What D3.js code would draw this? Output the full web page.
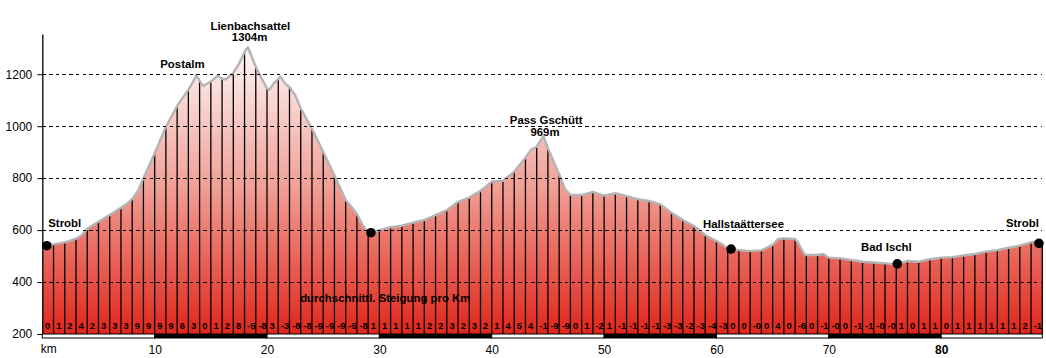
<!DOCTYPE html>
<html><head><meta charset="utf-8">
<script src="https://cdn.jsdelivr.net/npm/d3@7"></script>
<style>
html,body{margin:0;padding:0;background:#fff;}
svg{display:block;font-family:Arial,"Liberation Sans",sans-serif;}
</style></head>
<body>
<svg id="c" width="1046" height="358"></svg>
<script>
// ---- data ----
const profileKm = [0,0.5,1,2,3,3.5,4,5,6,7,7.5,8,8.5,9,10,11,12,12.5,13,13.4,13.7,14.3,15,15.6,16,16.3,17,17.5,18,18.3,19,19.5,20,20.2,20.6,21.2,21.6,22,22.5,23,24,25,26,27,27.5,28,28.5,29,29.3,30,31,32,33,34,35,36,37,38,39,40,41,42,43,43.5,44,44.6,45,46,46.5,47,48,49,50,51,52,53,54,55,56,57,58,59,60,60.5,61,62,63,64,65,65.5,66,67,67.3,67.8,68,69,69.5,70,71,72,73,74,75,76,77,78,79,80,81,82,83,84,85,86,87,88,88.7,89];
const profileElev = [537,540,545,553,567,580,605,632,658,686,700,720,750,800,896,998,1078,1110,1140,1170,1195,1155,1172,1195,1183,1180,1205,1240,1285,1304,1229,1185,1146,1140,1165,1191,1165,1150,1120,1069,990,902,810,716,690,662,620,590,588,600,611,617,629,639,658,677,709,725,751,786,790,825,879,910,921,962,915,815,760,735,735,747,733,742,731,719,712,699,667,639,616,581,558,545,528,523,519,522,543,566,568,566,549,508,504,504,508,494,491,485,478,475,472,468,481,478,488,494,496,502,508,517,523,532,540,553,556,552];
const gradLabels = ["0","1","2","4","2","3","3","3","9","9",
  "9","9","6","3","0","1","2","8","-5","-8",
  "3","-3","-8","-8","-9","-9","-9","-5","-8","1",
  "1","1","1","1","2","2","3","2","3","2",
  "1","4","5","4","-1","-9","-9","0","1","-2",
  "1","-1","-1","-1","-1","-3","-3","-2","-3","-4",
  "-3","0","0","-0","0","4","0","-6","0","-1",
  "-0","0","-1","-1","-0","-0","1","0","1","1",
  "0","1","1","1","1","1","1","2","-1"];
const yTicks = [200,400,600,800,1000,1200];
const xTicks = [10,20,30,40,50,60,70,80];
const waypointKm = [0.4,29.25,61.3,76.1,88.7];
const waypointElev = [540,590,527,470,549];
const labelText = ["Lienbachsattel","1304m","Postalm","Pass Gschütt","969m","Strobl","Hallstaättersee","Bad Ischl","Strobl","durchschnittl. Steigung pro Km"];
const labelKm   = [18.52,18.45,12.47,44.85,44.74,0.53,58.8,72.87,88.69,22.95];
const labelElev = [1372,1328,1226,1007,962,613,607,520,613,323];
const labelAnchor = ["middle","middle","middle","middle","middle","start","start","start","end","start"];

// ---- scales ----
const svg = d3.select("#c");
const x = d3.scaleLinear().domain([0,89]).range([42.3,1042.3]);
const y = d3.scaleLinear().domain([200,1355]).range([334,34]);
const pts = profileKm.map((k,i)=>[k,profileElev[i]]);
const elevAt = k => {
  const i = d3.bisector(d=>d[0]).left(pts,k);
  if(i<=0) return pts[0][1];
  if(i>=pts.length) return pts[pts.length-1][1];
  const a=pts[i-1], b=pts[i];
  return a[1]+(b[1]-a[1])*(k-a[0])/(b[0]-a[0]);
};

// gradient
const defs = svg.append("defs");
const g = defs.append("linearGradient").attr("id","fillg")
  .attr("gradientUnits","userSpaceOnUse").attr("x1",0).attr("x2",0)
  .attr("y1",y(1320)).attr("y2",y(200));
g.append("stop").attr("offset","0").attr("stop-color","#fffafa");
g.append("stop").attr("offset","0.5").attr("stop-color","#f09e94");
g.append("stop").attr("offset","1").attr("stop-color","#e0261a");

// area
svg.append("path").datum(pts)
  .attr("d", d3.area().x(d=>x(d[0])).y0(y(200)).y1(d=>y(d[1])))
  .attr("fill","url(#fillg)");

// vertical km lines
const kms = d3.range(1,90);
svg.append("g").selectAll("line").data(kms).join("line")
  .attr("x1",d=>x(d)).attr("x2",d=>x(d))
  .attr("y1",d=>y(elevAt(d))).attr("y2",y(200))
  .attr("stroke","#000").attr("stroke-width",1.3);

// profile outline
svg.append("path").datum(pts)
  .attr("d", d3.line().x(d=>x(d[0])).y(d=>y(d[1])))
  .attr("fill","none").attr("stroke","#b4b4b4").attr("stroke-width",2.4)
  .attr("stroke-linejoin","round");

// grid lines
svg.append("g").selectAll("line").data(yTicks.filter(v=>v>200)).join("line")
  .attr("x1",x(0)).attr("x2",x(89)).attr("y1",d=>y(d)).attr("y2",d=>y(d))
  .attr("stroke","#000").attr("stroke-width",1).attr("stroke-dasharray","3.5,3.2")
  .attr("shape-rendering","crispEdges");

// y axis
const ya = svg.append("g").attr("transform",`translate(${x(0)},0)`)
  .call(d3.axisLeft(y).tickValues(yTicks).tickSize(5).tickSizeOuter(0).tickPadding(5).tickFormat(d3.format("d")));
ya.select(".domain").attr("stroke","#000").attr("stroke-width",1.3);
ya.selectAll(".tick line").attr("stroke","#000");
ya.selectAll("text").attr("font-size","12px").attr("fill","#000").attr("font-family","Arial, 'Liberation Sans', sans-serif");

// km gradient labels
svg.append("g").selectAll("text").data(gradLabels).join("text")
  .attr("x",(d,i)=>x(i)+2.6).attr("y",y(200)-4.6)
  .attr("font-size","9.3px").attr("font-weight","bold").attr("fill","#000")
  .text(d=>d);

// bottom bar
const segs = d3.range(0,89,10);
svg.append("g").selectAll("rect").data(segs).join("rect")
  .attr("x",d=>x(d)).attr("width",d=>x(Math.min(d+10,89))-x(d))
  .attr("y",y(200)).attr("height",4)
  .attr("fill",(d,i)=>i%2? "#000":"#fff").attr("stroke","#000").attr("stroke-width",1);

// x labels
const xa = svg.append("g").attr("transform",`translate(0,${y(200)+4})`)
  .call(d3.axisBottom(x).tickValues(xTicks).tickSize(0).tickPadding(7).tickFormat(d3.format("d")));
xa.select(".domain").remove();
xa.selectAll("text").attr("font-size","12px").attr("fill","#000").attr("font-family","Arial, 'Liberation Sans', sans-serif")
  .attr("font-weight",d=>d===80?"bold":"normal");
svg.append("text").attr("x",x(0)-1.6).attr("y",353).attr("font-size","12px").attr("fill","#000").text("km");

// waypoints
svg.append("g").selectAll("circle").data(waypointKm).join("circle")
  .attr("cx",d=>x(d)).attr("cy",(d,i)=>y(waypointElev[i])).attr("r",4.8).attr("fill","#000");

// annotations
svg.append("g").selectAll("text").data(labelText).join("text")
  .attr("x",(d,i)=>x(labelKm[i])).attr("y",(d,i)=>y(labelElev[i]))
  .attr("text-anchor",(d,i)=>labelAnchor[i])
  .attr("font-size","11.4px").attr("font-weight","bold").attr("fill","#000")
  .text(d=>d);
</script>
</body></html>
